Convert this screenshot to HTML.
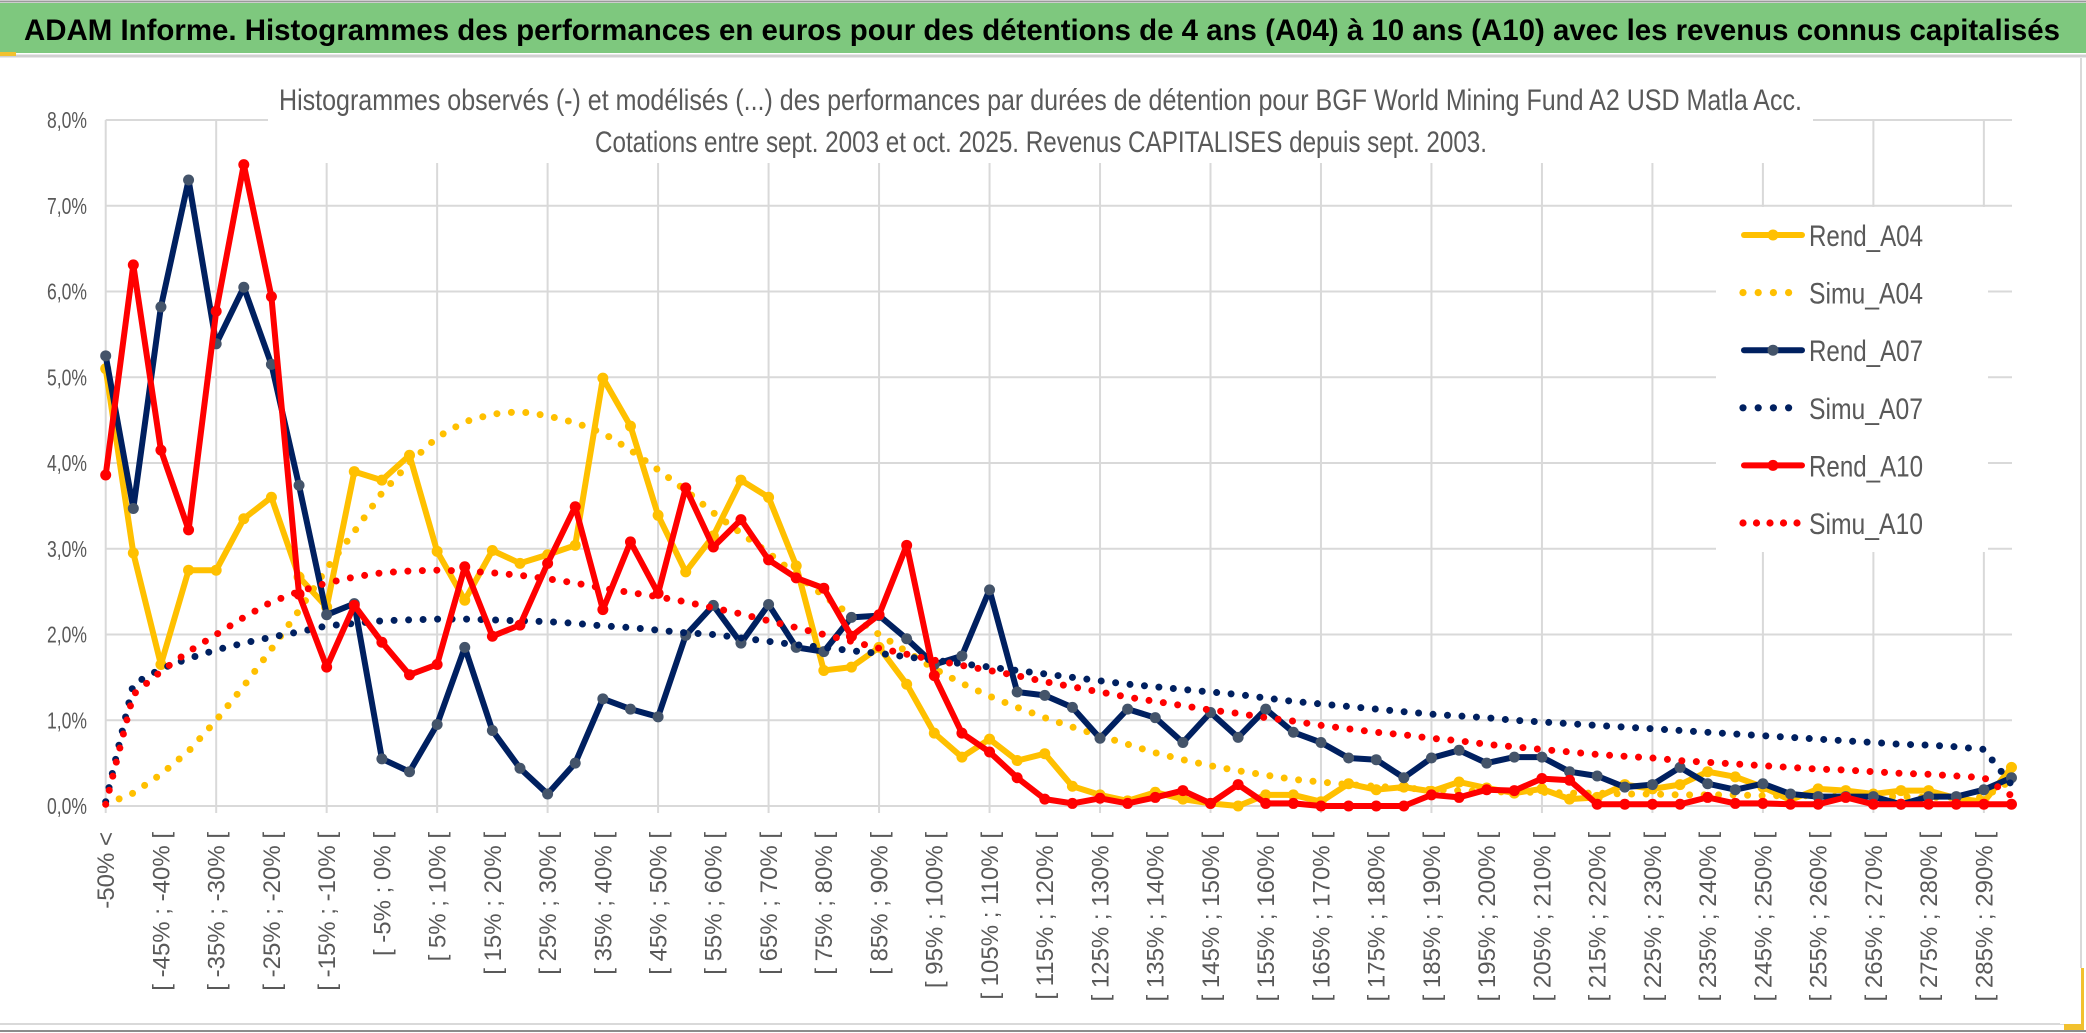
<!DOCTYPE html>
<html><head><meta charset="utf-8">
<style>
html,body{margin:0;padding:0;background:#fff;}
body{width:2086px;height:1033px;overflow:hidden;}
svg{display:block;font-family:"Liberation Sans",sans-serif;}
</style></head>
<body>
<svg id="chart" width="2086" height="1033" viewBox="0 0 2086 1033" xmlns="http://www.w3.org/2000/svg">
  <rect x="0" y="0" width="2086" height="1033" fill="#fff"/>
  <rect x="0" y="3" width="2086" height="50" fill="#7ec87e"/>
  <line x1="0" y1="1.5" x2="2086" y2="1.5" stroke="#9a9a9a" stroke-width="2"/>
  <line x1="0" y1="56" x2="2086" y2="56" stroke="#d0d0d0" stroke-width="3"/>
  <rect x="0" y="52" width="16" height="4" fill="#f2c12e"/>
  <text x="24" y="40" font-size="30" font-weight="bold" fill="#000" textLength="2036" lengthAdjust="spacingAndGlyphs">ADAM Informe. Histogrammes des performances en euros pour des détentions de 4 ans (A04) à 10 ans (A10) avec les revenus connus capitalisés</text>
  <g id="grid"></g>
  <rect x="268" y="60" width="1545" height="103" fill="#fff"/>
  <text x="279" y="110" font-size="30" fill="#595959" textLength="1523" lengthAdjust="spacingAndGlyphs">Histogrammes observés (-) et modélisés (...) des performances par durées de détention pour BGF World Mining Fund A2 USD Matla Acc.</text>
  <text x="595" y="152" font-size="30" fill="#595959" textLength="892" lengthAdjust="spacingAndGlyphs">Cotations entre sept. 2003 et oct. 2025. Revenus CAPITALISES depuis sept. 2003.</text>
  <g id="yaxis"></g>
  <g id="xaxis"></g>
  <g id="series"></g>
  <g id="legend"></g>
  <line x1="0" y1="1024" x2="2081" y2="1024" stroke="#d9d9d9" stroke-width="2"/>
  <line x1="0" y1="1031" x2="2086" y2="1031" stroke="#8c8c8c" stroke-width="2"/>
  <line x1="2081" y1="58" x2="2081" y2="1024" stroke="#d9d9d9" stroke-width="2"/>
  <rect x="2064" y="968" width="20" height="62" fill="#f2c12e"/>
  <rect x="2060" y="968" width="21" height="56" fill="#fff"/>
</svg>
<script>
const categories = ["-50% <"];
for (let k = -50; k < 300; k += 5) { if (categories.length < 70) categories.push("[ " + k + "% ; " + (k + 5) + "% ["); }
const yTicks = [0,1,2,3,4,5,6,7,8];
const yTickLabels = ["0,0%","1,0%","2,0%","3,0%","4,0%","5,0%","6,0%","7,0%","8,0%"];
const rendA04 = [5.1,2.95,1.65,2.75,2.75,3.35,3.6,2.67,2.32,3.9,3.8,4.09,2.97,2.4,2.98,2.83,2.93,3.04,4.99,4.43,3.39,2.73,3.15,3.8,3.6,2.8,1.58,1.62,1.85,1.42,0.85,0.57,0.78,0.53,0.61,0.23,0.13,0.06,0.16,0.08,0.03,0.0,0.13,0.13,0.05,0.26,0.19,0.22,0.17,0.28,0.21,0.15,0.2,0.08,0.1,0.25,0.2,0.25,0.4,0.34,0.22,0.07,0.2,0.18,0.14,0.18,0.18,0.09,0.05,0.45];
const simuA04 = [0.02,0.15,0.37,0.64,1.0,1.4,1.83,2.28,2.77,3.2,3.65,4.0,4.3,4.48,4.57,4.6,4.55,4.47,4.35,4.15,3.92,3.68,3.42,3.18,2.95,2.7,2.45,2.22,2.0,1.8,1.6,1.43,1.28,1.15,1.03,0.92,0.82,0.72,0.62,0.54,0.47,0.41,0.36,0.31,0.28,0.25,0.23,0.21,0.19,0.18,0.17,0.16,0.16,0.15,0.15,0.14,0.14,0.13,0.13,0.13,0.12,0.12,0.12,0.11,0.11,0.11,0.1,0.1,0.1,0.3];
const rendA07 = [5.25,3.47,5.82,7.3,5.39,6.05,5.15,3.74,2.23,2.36,0.55,0.4,0.95,1.85,0.88,0.44,0.14,0.5,1.25,1.13,1.04,1.99,2.34,1.9,2.35,1.85,1.8,2.2,2.22,1.95,1.65,1.75,2.52,1.33,1.29,1.15,0.79,1.13,1.03,0.74,1.09,0.8,1.13,0.86,0.74,0.56,0.54,0.33,0.56,0.65,0.5,0.57,0.57,0.4,0.35,0.22,0.25,0.45,0.26,0.19,0.26,0.14,0.11,0.11,0.11,0.02,0.11,0.11,0.19,0.33];
const simuA07 = [0.05,1.42,1.6,1.72,1.82,1.9,1.97,2.03,2.1,2.13,2.16,2.17,2.18,2.18,2.17,2.16,2.15,2.13,2.1,2.08,2.05,2.02,2.0,1.96,1.92,1.88,1.85,1.81,1.78,1.74,1.7,1.66,1.62,1.58,1.54,1.5,1.46,1.42,1.39,1.36,1.33,1.3,1.26,1.22,1.19,1.16,1.13,1.1,1.07,1.05,1.03,1.0,0.98,0.96,0.94,0.92,0.9,0.88,0.86,0.84,0.82,0.8,0.78,0.76,0.74,0.72,0.71,0.69,0.66,0.25];
const rendA10 = [3.86,6.31,4.15,3.22,5.77,7.48,5.94,2.47,1.62,2.34,1.91,1.53,1.65,2.79,1.98,2.11,2.83,3.49,2.29,3.08,2.48,3.71,3.02,3.34,2.87,2.66,2.54,1.98,2.23,3.04,1.52,0.85,0.63,0.33,0.08,0.03,0.09,0.03,0.1,0.18,0.03,0.25,0.03,0.03,0.0,0.0,0.0,0.0,0.13,0.1,0.19,0.18,0.32,0.3,0.02,0.02,0.02,0.02,0.1,0.03,0.03,0.02,0.02,0.1,0.02,0.02,0.02,0.02,0.02,0.02];
const simuA10 = [0.02,1.3,1.57,1.8,2.0,2.2,2.38,2.5,2.6,2.67,2.72,2.74,2.75,2.74,2.72,2.69,2.65,2.6,2.54,2.49,2.44,2.38,2.31,2.24,2.16,2.08,2.0,1.92,1.84,1.77,1.7,1.64,1.58,1.52,1.45,1.39,1.33,1.27,1.22,1.17,1.12,1.08,1.03,0.99,0.94,0.9,0.86,0.83,0.79,0.76,0.72,0.69,0.66,0.63,0.6,0.58,0.56,0.53,0.51,0.49,0.47,0.45,0.43,0.42,0.4,0.38,0.37,0.35,0.33,0.12];
const seriesNames = ["Rend_A04","Simu_A04","Rend_A07","Simu_A07","Rend_A10","Simu_A10"];

const NS = "http://www.w3.org/2000/svg";
const X0 = 105.7, XSTEP = 27.62, Y0 = 806, YUNIT = 85.75, XMAX = 2012;
function xScale(i){ return X0 + i * XSTEP; }
function yScale(v){ return Y0 - v * YUNIT; }
function mk(tag, attrs, parent){ const e = document.createElementNS(NS, tag); for (const k in attrs) e.setAttribute(k, attrs[k]); parent.appendChild(e); return e; }

const grid = document.getElementById('grid');
yTicks.forEach(function(t){
  const l = mk('line', {x1: X0, x2: XMAX, y1: yScale(t), y2: yScale(t), stroke: '#d9d9d9', 'stroke-width': 2}, grid);
  
  
});
for (let i = 0; i < categories.length; i += 4) {
  const l = mk('line', {x1: xScale(i), x2: xScale(i), y1: yScale(8), y2: Y0 + 7, stroke: '#d9d9d9', 'stroke-width': 2}, grid);
  
  
}
const yaxis = document.getElementById('yaxis');
yTicks.forEach(function(t, k){
  const tx = mk('text', {x: 87, y: yScale(t) + 8, 'font-size': 23, fill: '#595959', 'text-anchor': 'end', textLength: 40, lengthAdjust: 'spacingAndGlyphs'}, yaxis);
  tx.textContent = yTickLabels[k];
  
  
});
const xaxis = document.getElementById('xaxis');
categories.forEach(function(c, i){
  if (i % 2 !== 0) return;
  const x = xScale(i);
  const tx = mk('text', {x: 0, y: 0, dy: '0.35em', 'font-size': 24, fill: '#595959', 'text-anchor': 'end', transform: 'translate(' + x + ',832) rotate(-90)'}, xaxis);
  tx.textContent = c;
  
  
});

const seriesLayer = document.getElementById('series');
function drawRend(data, color, markerColor, name){
  const g = mk('g', {}, seriesLayer);
  
  
  const pts = data.map(function(v, i){ return xScale(i).toFixed(1) + ',' + yScale(v).toFixed(1); }).join(' ');
  const pl = mk('polyline', {points: pts, fill: 'none', stroke: color, 'stroke-width': 6, 'stroke-linejoin': 'round', 'stroke-linecap': 'round'}, g);
  
  
  data.forEach(function(v, i){
    const c = mk('circle', {cx: xScale(i), cy: yScale(v), r: 5.5, fill: markerColor}, g);
    
    
  });
}
function drawSimu(data, color, name){
  const pts = data.map(function(v, i){ return xScale(i).toFixed(1) + ',' + yScale(v).toFixed(1); }).join(' ');
  const pl = mk('polyline', {points: pts, fill: 'none', stroke: color, 'stroke-width': 7, 'stroke-dasharray': '0 14.5', 'stroke-linecap': 'round', 'stroke-linejoin': 'round'}, seriesLayer);
  
  
}
drawRend(rendA04, '#ffc000', '#ffc000', 'rend-a04');
drawSimu(simuA04, '#ffc000', 'simu-a04');
drawRend(rendA07, '#002060', '#44546a', 'rend-a07');
drawSimu(simuA07, '#002060', 'simu-a07');
drawRend(rendA10, '#ff0000', '#ff0000', 'rend-a10');
drawSimu(simuA10, '#ff0000', 'simu-a10');

const legend = document.getElementById('legend');
mk('rect', {x: 1716, y: 207, width: 272, height: 345, fill: '#fff'}, legend);
const legColors = ['#ffc000','#ffc000','#002060','#002060','#ff0000','#ff0000'];
const legMarker = ['#ffc000','','#44546a','','#ff0000',''];
seriesNames.forEach(function(n, k){
  const y = 235 + k * 57.6;
  const g = mk('g', {}, legend);
  
  
  if (k % 2 === 0) {
    mk('line', {x1: 1744, x2: 1802, y1: y, y2: y, stroke: legColors[k], 'stroke-width': 6, 'stroke-linecap': 'round'}, g);
    mk('circle', {cx: 1773, cy: y, r: 5.5, fill: legMarker[k]}, g);
  } else {
    const nd = (k === 5) ? 5 : 4;
    for (let d = 0; d < nd; d++) mk('circle', {cx: 1743 + d * (k === 5 ? 13.5 : 15.2), cy: y, r: 3.6, fill: legColors[k]}, g);
  }
  const tx = mk('text', {x: 1809, y: y + 11, 'font-size': 30, fill: '#595959', textLength: 114, lengthAdjust: 'spacingAndGlyphs'}, g);
  tx.textContent = n;
});
</script>
</body></html>
